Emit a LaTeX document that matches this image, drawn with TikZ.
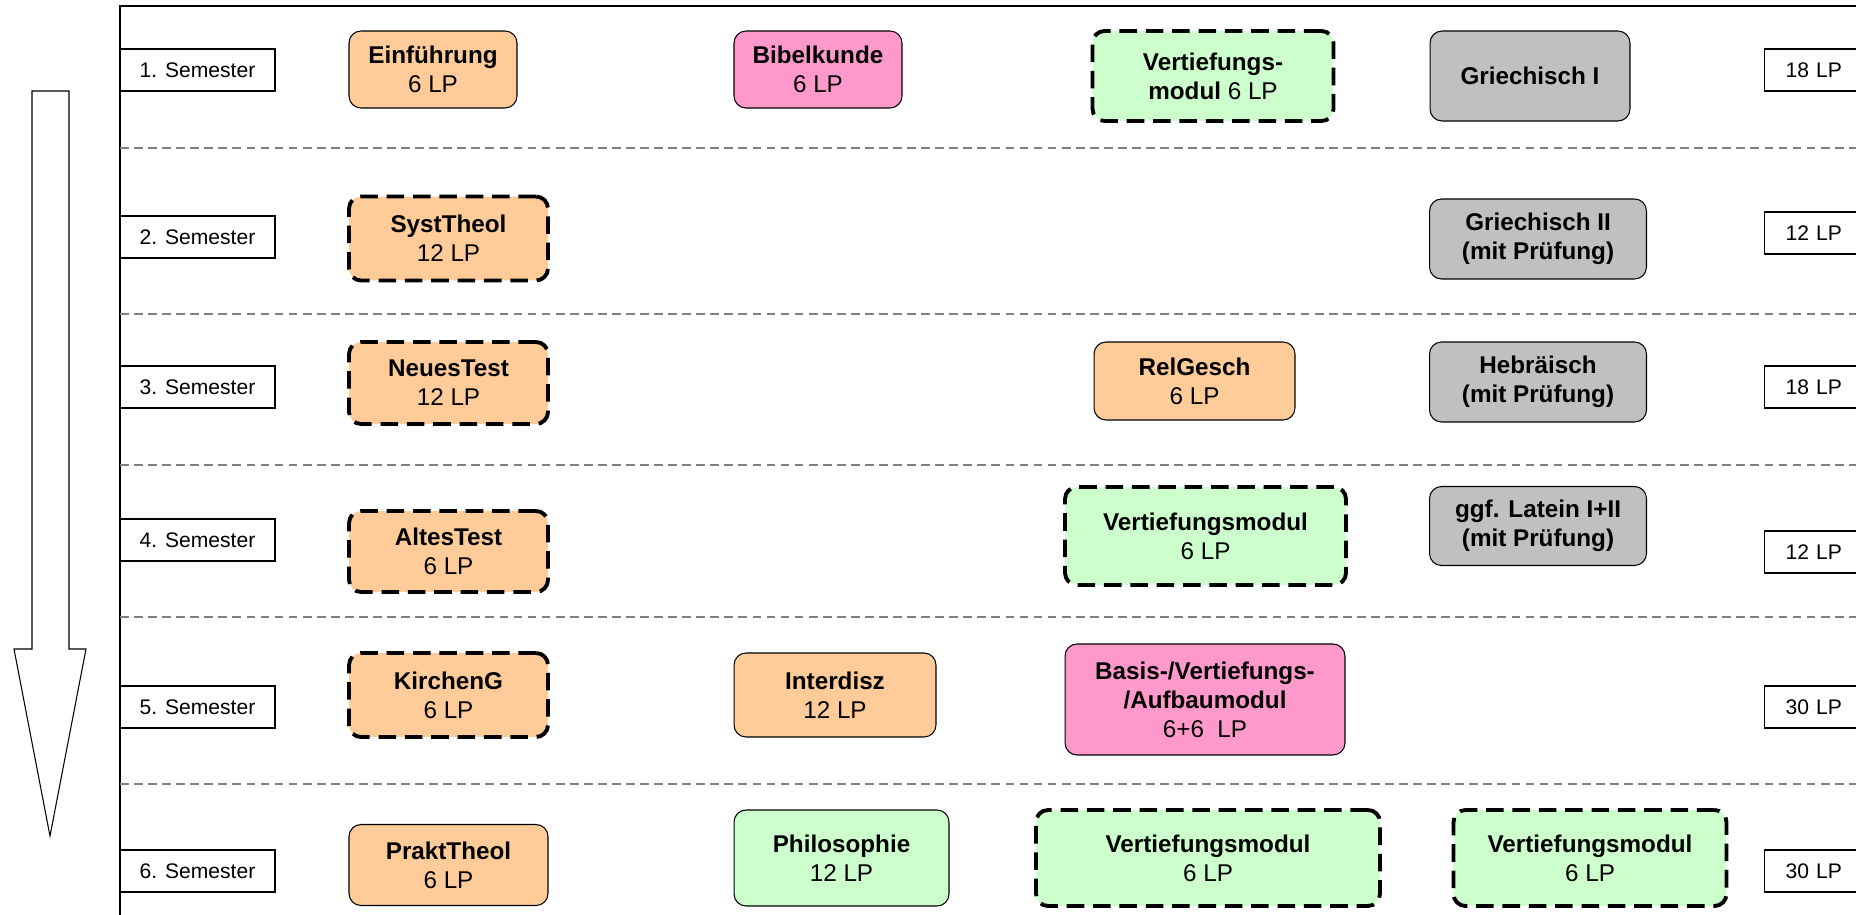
\documentclass[tikz,border=0pt]{standalone}
\usepackage{fontspec}
\setmainfont{Liberation Sans}
\definecolor{orangeM}{HTML}{FFCC99}
\definecolor{pinkM}{HTML}{FF99CC}
\definecolor{greenM}{HTML}{CCFFCC}
\definecolor{grayM}{HTML}{C0C0C0}
\begin{document}
\begin{tikzpicture}[x=0.02cm,y=-0.02cm,
  modul/.style={draw,rounded corners=0.24cm,line width=0.6pt,align=center,inner sep=0pt,
    font=\fontsize{13.8}{16.5}\selectfont},
  wahl/.style={modul,line width=2.2pt,dash pattern=on 10pt off 5pt},
  sem/.style={draw,line width=0.8pt,minimum width=3.1cm,minimum height=0.84cm,
    font=\fontsize{12}{14}\selectfont},
  lpbox/.style={draw,line width=0.8pt,anchor=west,minimum height=0.84cm,text width=2.2cm,
    inner xsep=0.42cm,align=left,font=\fontsize{12}{14}\selectfont},
  trenn/.style={black!50,line width=1pt,dash pattern=on 5pt off 3pt}]
\useasboundingbox (0,0) rectangle (1856,915);
\clip (0,0) rectangle (1856,915);

% Rahmen und Semestertrenner
\draw[line width=0.9pt] (120,915) -- (120,6) -- (1856,6);
\foreach \y in {148,314,465,617,784}
  \draw[trenn] (120,\y) -- (1856,\y);

% Zeitpfeil
\draw[line width=0.6pt] (32,91) -- (69,91) -- (69,649) -- (86,649) -- (50,836)
  -- (14,649) -- (32,649) -- cycle;

% Semester und Leistungspunkte
\foreach \i/\y in {1/70,2/237,3/387,4/540,5/707,6/871}
  \node[sem] (sem\i) at (197.5,\y) {\i. Semester};
\foreach \i/\y/\lp in {1/70/18,2/233/12,3/387/18,4/552/12,5/707/30,6/871/30}
  \node[lpbox] (lp\i) at (1764,\y) {\lp\ LP};

% 1. Semester
\node[modul,fill=orangeM,minimum width=3.36cm,minimum height=1.54cm] (einf) at (433,69.5)
  {\textbf{Einführung}\\6 LP};
\node[modul,fill=pinkM,minimum width=3.36cm,minimum height=1.54cm] (bibel) at (818,69.5)
  {\textbf{Bibelkunde}\\6 LP};
\node[wahl,fill=greenM,minimum width=4.82cm,minimum height=1.8cm] (vert1) at (1213,76)
  {\textbf{Vertiefungs-}\\\textbf{modul} 6 LP};
\node[modul,fill=grayM,minimum width=4cm,minimum height=1.8cm] (griech1) at (1530,76)
  {\textbf{Griechisch I}};

% 2. Semester
\node[wahl,fill=orangeM,minimum width=3.98cm,minimum height=1.68cm] (syst) at (448.5,238.5)
  {\textbf{SystTheol}\\12 LP};
\node[modul,fill=grayM,minimum width=4.34cm,minimum height=1.6cm] (griech2) at (1538,239)
  {\textbf{Griechisch II}\\\textbf{(mit Prüfung)}};

% 3. Semester
\node[wahl,fill=orangeM,minimum width=3.98cm,minimum height=1.64cm] (nt) at (448.5,383)
  {\textbf{NeuesTest}\\12 LP};
\node[modul,fill=orangeM,minimum width=4.02cm,minimum height=1.56cm] (relg) at (1194.5,381)
  {\textbf{RelGesch}\\6 LP};
\node[modul,fill=grayM,minimum width=4.34cm,minimum height=1.6cm] (hebr) at (1538,382)
  {\textbf{Hebräisch}\\\textbf{(mit Prüfung)}};

% 4. Semester
\node[wahl,fill=orangeM,minimum width=3.98cm,minimum height=1.62cm] (at) at (448.5,551.5)
  {\textbf{AltesTest}\\6 LP};
\node[wahl,fill=greenM,minimum width=5.62cm,minimum height=1.96cm] (vert2) at (1205.5,536)
  {\textbf{Vertiefungsmodul}\\6 LP};
\node[modul,fill=grayM,minimum width=4.34cm,minimum height=1.58cm] (latein) at (1538,526)
  {\textbf{ggf. Latein I+II}\\\textbf{(mit Prüfung)}};

% 5. Semester
\node[wahl,fill=orangeM,minimum width=3.98cm,minimum height=1.68cm] (kg) at (448.5,695)
  {\textbf{KirchenG}\\6 LP};
\node[modul,fill=orangeM,minimum width=4.04cm,minimum height=1.68cm] (inter) at (835,695)
  {\textbf{Interdisz}\\12 LP};
\node[modul,fill=pinkM,minimum width=5.6cm,minimum height=2.22cm] (basis) at (1205,699.5)
  {\textbf{Basis-/Vertiefungs-}\\\textbf{/Aufbaumodul}\\6+6~~LP};

% 6. Semester
\node[modul,fill=orangeM,minimum width=3.98cm,minimum height=1.62cm] (pt) at (448.5,865)
  {\textbf{PraktTheol}\\6 LP};
\node[modul,fill=greenM,minimum width=4.3cm,minimum height=1.92cm] (philo) at (841.5,858)
  {\textbf{Philosophie}\\12 LP};
\node[wahl,fill=greenM,minimum width=6.88cm,minimum height=1.92cm] (vert3) at (1208,858)
  {\textbf{Vertiefungsmodul}\\6 LP};
\node[wahl,fill=greenM,minimum width=5.46cm,minimum height=1.92cm] (vert4) at (1590,858)
  {\textbf{Vertiefungsmodul}\\6 LP};
\end{tikzpicture}
\end{document}
